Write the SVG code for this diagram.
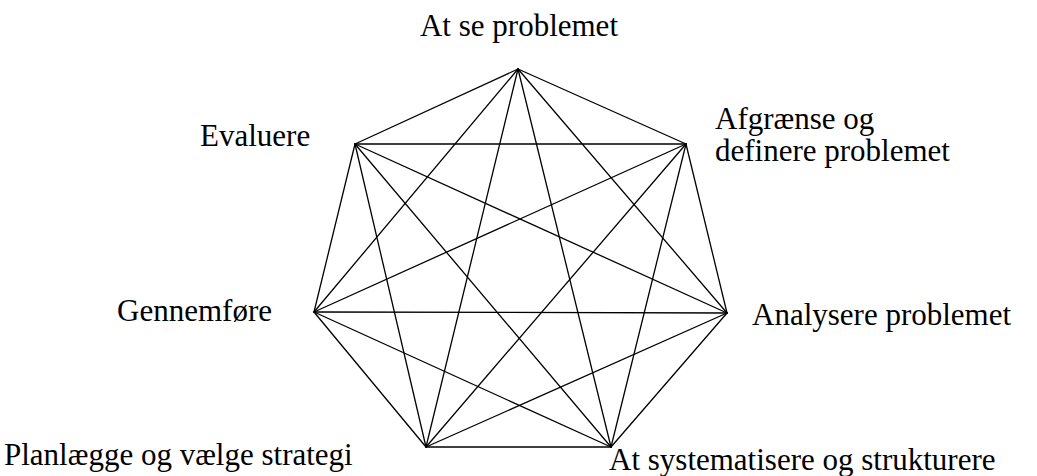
<svg xmlns="http://www.w3.org/2000/svg" width="1037" height="476" viewBox="0 0 1037 476">
<style>
text{font-family:"Liberation Serif","Times New Roman",serif;font-size:31px;fill:#000}
.e line{stroke:#000;stroke-width:1.3;stroke-linecap:round}
</style>
<rect width="1037" height="476" fill="#fff"/>
<g class="e" id="connectors">
<line x1="518" y1="69" x2="686" y2="144"/>
<line x1="518" y1="69" x2="727" y2="313"/>
<line x1="518" y1="69" x2="611" y2="447"/>
<line x1="518" y1="69" x2="426" y2="447"/>
<line x1="518" y1="69" x2="314" y2="312"/>
<line x1="518" y1="69" x2="355" y2="144"/>
<line x1="686" y1="144" x2="727" y2="313"/>
<line x1="686" y1="144" x2="611" y2="447"/>
<line x1="686" y1="144" x2="426" y2="447"/>
<line x1="686" y1="144" x2="314" y2="312"/>
<line x1="686" y1="144" x2="355" y2="144"/>
<line x1="727" y1="313" x2="611" y2="447"/>
<line x1="727" y1="313" x2="426" y2="447"/>
<line x1="727" y1="313" x2="314" y2="312"/>
<line x1="727" y1="313" x2="355" y2="144"/>
<line x1="611" y1="447" x2="426" y2="447"/>
<line x1="611" y1="447" x2="314" y2="312"/>
<line x1="611" y1="447" x2="355" y2="144"/>
<line x1="426" y1="447" x2="314" y2="312"/>
<line x1="426" y1="447" x2="355" y2="144"/>
<line x1="314" y1="312" x2="355" y2="144"/>
</g>
<g id="n1"><text x="519" y="36" text-anchor="middle">At se problemet</text></g>
<g id="n2"><text x="715" y="129">Afgrænse og</text><text x="715" y="161">definere problemet</text></g>
<g id="n3"><text x="752" y="325">Analysere problemet</text></g>
<g id="n4"><text x="609" y="470">At systematisere og strukturere</text></g>
<g id="n5"><text x="4" y="465">Planlægge og vælge strategi</text></g>
<g id="n6"><text x="272" y="321" text-anchor="end">Gennemføre</text></g>
<g id="n7"><text x="200" y="146">Evaluere</text></g>
</svg>
